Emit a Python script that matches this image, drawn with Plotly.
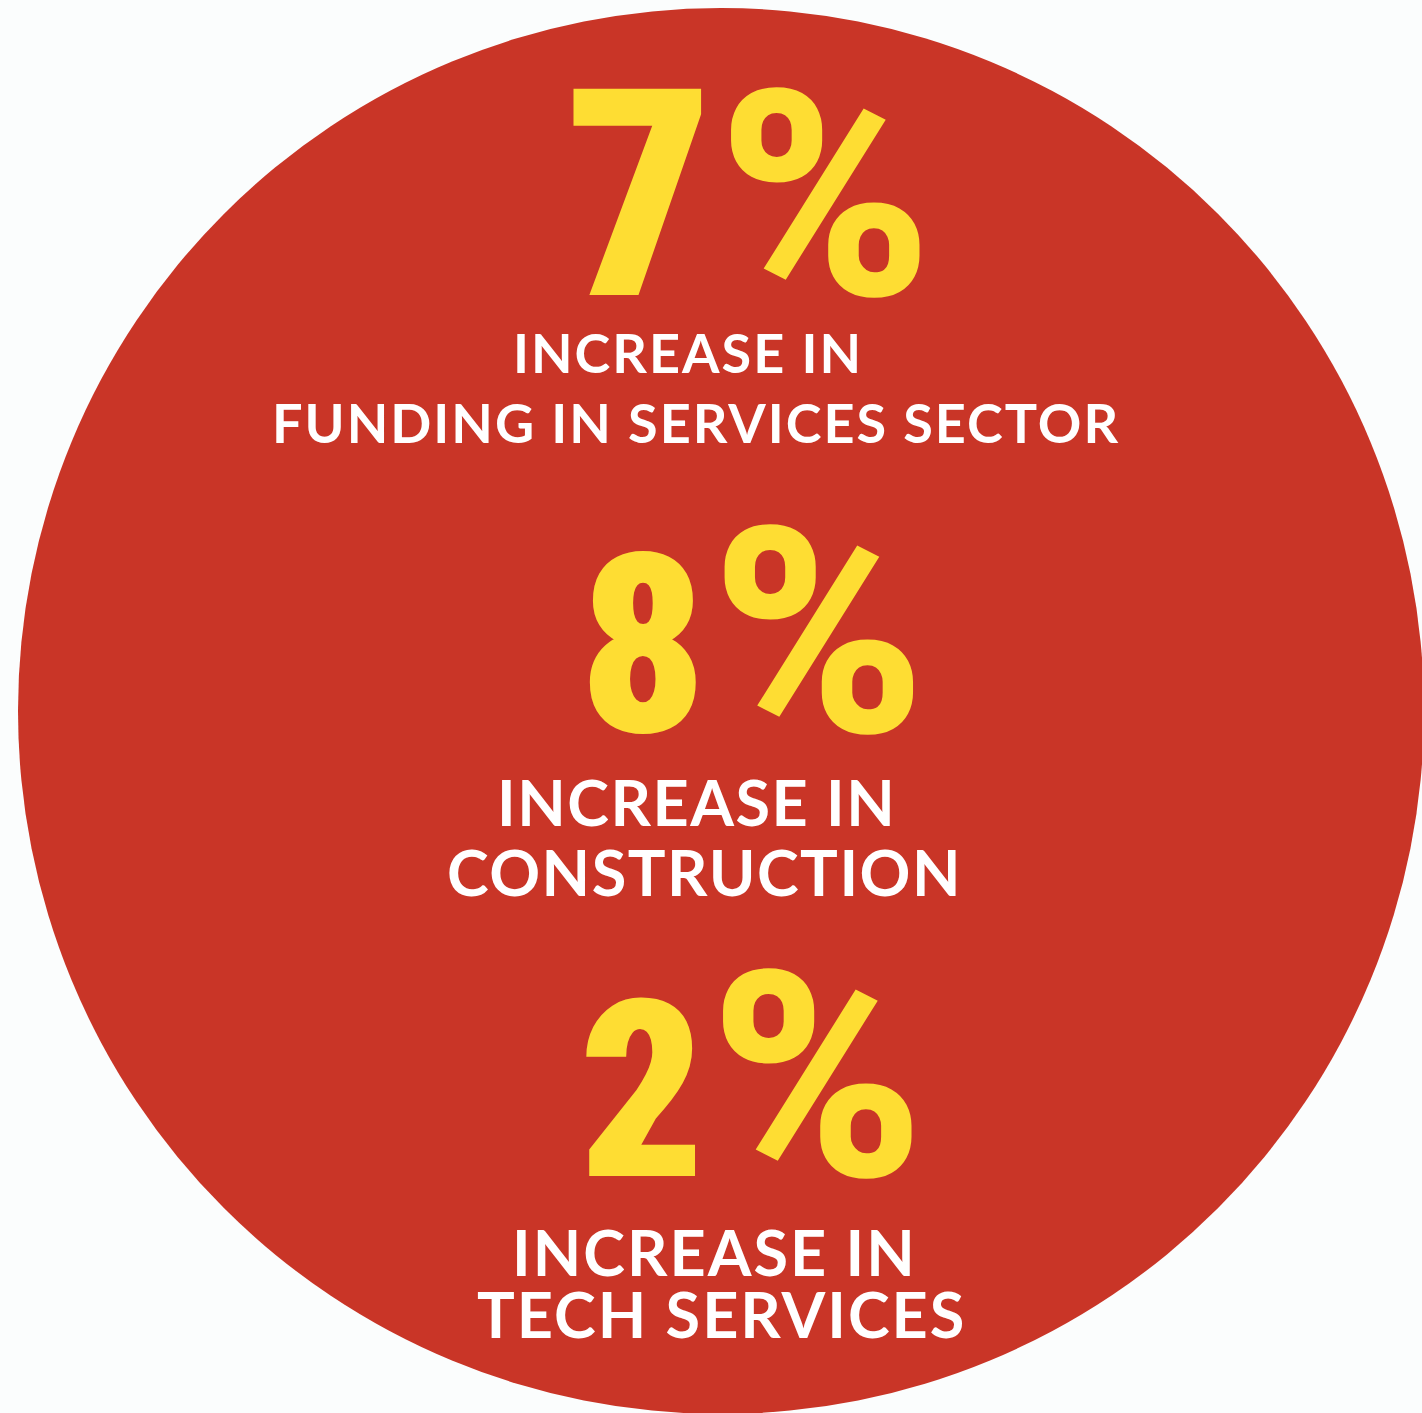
import plotly.graph_objects as go

# ---- data ----
values = [7, 8, 2]
label_line1 = ["INCREASE IN", "INCREASE IN", "INCREASE IN"]
label_line2 = ["FUNDING IN SERVICES SECTOR", "CONSTRUCTION", "TECH SERVICES"]

# ---- style / layout (pixel coordinates, y downward) ----
W, H = 1422, 1413
RED = "#c93527"
YELLOW = "#fedd33"
WHITE = "#ffffff"
BG = "#fbfdfd"

num_x = [748, 752, 751]
num_cy = [196, 633, 1077]
digit_size = [290, 250, 247]
pct_size = 288
line1_cy = [352, 801, 1251]
line2_cy = [422, 871, 1313]
lab_x1 = [688, 696, 714]
lab_x2 = [696, 704, 721]
lab_size = [54, 63, 63]
lab_spacing = [2, 1.5, 2]

DIGIT_FONT = "Roboto Condensed, Open Sans Condensed, DejaVu Sans Condensed, sans-serif"
PCT_FONT = "Roboto, sans-serif"
LAB_FONT = "Lato, Noto Sans, sans-serif"

fig = go.Figure()
fig.add_shape(type="circle", xref="x", yref="y", x0=18, x1=1424, y0=8, y1=1414,
              fillcolor=RED, line=dict(width=0), layer="below")

for i, v in enumerate(values):
    num_text = (f"<span style='font-family:{DIGIT_FONT};font-size:{digit_size[i]}px'>{v}</span>"
                "<span style='font-size:20px'> </span>%")
    fig.add_annotation(x=num_x[i], y=num_cy[i], xref="x", yref="y", text=num_text,
                       showarrow=False, xanchor="center", yanchor="middle",
                       font=dict(family=PCT_FONT, size=pct_size, color=YELLOW, weight=900))
    sp = f"<span style='letter-spacing:{lab_spacing[i]}px'>"
    fig.add_annotation(x=lab_x1[i], y=line1_cy[i], xref="x", yref="y",
                       text=sp + label_line1[i] + "</span>",
                       showarrow=False, xanchor="center", yanchor="middle",
                       font=dict(family=LAB_FONT, size=lab_size[i], color=WHITE, weight="bold"))
    fig.add_annotation(x=lab_x2[i], y=line2_cy[i], xref="x", yref="y",
                       text=sp + label_line2[i] + "</span>",
                       showarrow=False, xanchor="center", yanchor="middle",
                       font=dict(family=LAB_FONT, size=lab_size[i], color=WHITE, weight="bold"))

fig.update_xaxes(range=[0, W], visible=False, fixedrange=True)
fig.update_yaxes(range=[H, 0], visible=False, fixedrange=True)
fig.update_layout(width=W, height=H, margin=dict(l=0, r=0, t=0, b=0),
                  paper_bgcolor=BG, plot_bgcolor=BG, showlegend=False)

fig.write_html("out.html", config={"displayModeBar": False},
               post_script="document.body.style.margin='0';")
